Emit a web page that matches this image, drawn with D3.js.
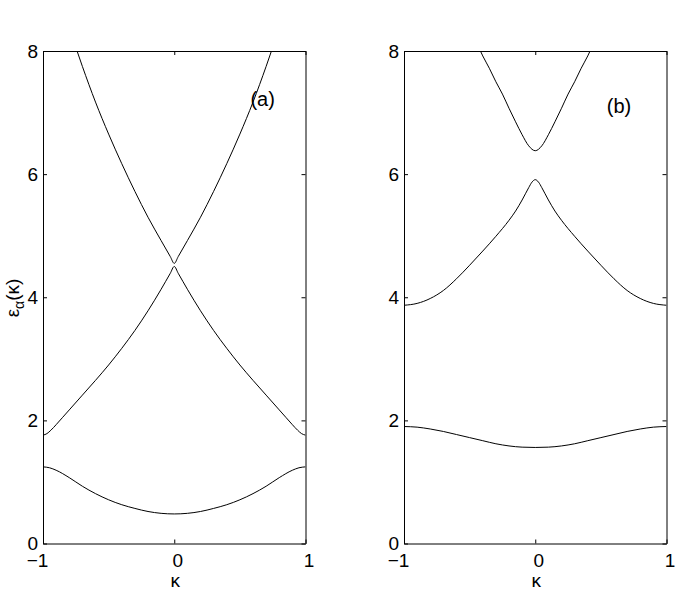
<!DOCTYPE html>
<html>
<head>
<meta charset="utf-8">
<script src="https://cdn.jsdelivr.net/npm/d3@7"></script>
<style>
  body { margin: 0; background: #fff; }
  svg { display: block; font-family: "Liberation Sans", Arial, sans-serif; }
  .band { fill: none; stroke: #000; stroke-width: 1; }
  .axis path, .axis line { stroke: #000; }
  .axis text { font-size: 19px; fill: #000; font-family: "Liberation Sans", Arial, sans-serif; }
</style>
</head>
<body>
<script>
// x and y ticks
var xTicks = [-1, 0, 1];
var yTicks = [0, 2, 4, 6, 8];

// panel (a) bands
var aLowK = [-1, -0.95, -0.9, -0.8, -0.7, -0.6, -0.5, -0.4, -0.3, -0.2, -0.1, 0, 0.1, 0.2, 0.3, 0.4, 0.5, 0.6, 0.7, 0.8, 0.9, 0.95, 1];
var aLowE = [1.245, 1.23, 1.19, 1.07, 0.93, 0.81, 0.71, 0.63, 0.57, 0.52, 0.49, 0.48, 0.49, 0.52, 0.57, 0.63, 0.71, 0.81, 0.93, 1.07, 1.19, 1.23, 1.245];

var aMidK = [-1, -0.97, -0.94, -0.9, -0.85, -0.8, -0.7, -0.6, -0.5, -0.4, -0.3, -0.2, -0.1, -0.03, 0,
             0.03, 0.1, 0.2, 0.3, 0.4, 0.5, 0.6, 0.7, 0.8, 0.85, 0.9, 0.94, 0.97, 1];
var aMidE = [1.76, 1.785, 1.84, 1.93, 2.05, 2.17, 2.41, 2.65, 2.9, 3.17, 3.46, 3.78, 4.13, 4.39, 4.5,
             4.39, 4.13, 3.78, 3.46, 3.17, 2.9, 2.65, 2.41, 2.17, 2.05, 1.93, 1.84, 1.785, 1.76];

var aTopK = [-0.78, -0.7, -0.6, -0.5, -0.4, -0.3, -0.2, -0.1, -0.03, 0, 0.03, 0.1, 0.2, 0.3, 0.4, 0.5, 0.6, 0.7, 0.78];
var aTopE = [8.25, 7.75, 7.17, 6.65, 6.17, 5.72, 5.3, 4.92, 4.66, 4.55, 4.66, 4.92, 5.3, 5.72, 6.17, 6.65, 7.17, 7.75, 8.25];

// panel (b) bands
var bLowK = [-1, -0.9, -0.8, -0.7, -0.6, -0.5, -0.4, -0.3, -0.2, -0.1, 0, 0.1, 0.2, 0.3, 0.4, 0.5, 0.6, 0.7, 0.8, 0.9, 1];
var bLowE = [1.90, 1.89, 1.86, 1.82, 1.77, 1.72, 1.67, 1.62, 1.585, 1.565, 1.56, 1.565, 1.585, 1.62, 1.67, 1.72, 1.77, 1.82, 1.86, 1.89, 1.90];

var bMidK = [-1, -0.9, -0.8, -0.7, -0.6, -0.5, -0.4, -0.3, -0.2, -0.15, -0.1, -0.05, -0.025, 0,
             0.025, 0.05, 0.1, 0.15, 0.2, 0.3, 0.4, 0.5, 0.6, 0.7, 0.8, 0.9, 1];
var bMidE = [3.87, 3.90, 3.98, 4.11, 4.30, 4.52, 4.75, 4.99, 5.25, 5.40, 5.58, 5.78, 5.87, 5.91,
             5.87, 5.78, 5.58, 5.40, 5.25, 4.99, 4.75, 4.52, 4.30, 4.11, 3.98, 3.90, 3.87];

var bTopK = [-0.46, -0.4, -0.35, -0.3, -0.25, -0.2, -0.15, -0.1, -0.05, 0, 0.05, 0.1, 0.15, 0.2, 0.25, 0.3, 0.35, 0.4, 0.46];
var bTopE = [8.2, 7.92, 7.72, 7.5, 7.3, 7.07, 6.85, 6.64, 6.46, 6.38, 6.46, 6.64, 6.85, 7.07, 7.3, 7.5, 7.72, 7.92, 8.2];

var panels = [
  { id: "a", label: "(a)", labelK: 0.58, labelE: 7.1, x0: 43, x1: 305.5,
    bands: [[aLowK, aLowE], [aMidK, aMidE], [aTopK, aTopE]] },
  { id: "b", label: "(b)", labelK: 0.545, labelE: 7.0, x0: 404, x1: 666.5,
    bands: [[bLowK, bLowE], [bMidK, bMidE], [bTopK, bTopE]] }
];

var width = 681, height = 595;
var plotTop = 51, plotBottom = 543.5;

var svg = d3.select("body").append("svg")
  .attr("width", width)
  .attr("height", height);

var y = d3.scaleLinear().domain([0, 8]).range([plotBottom, plotTop]);

panels.forEach(function(p){
  var x = d3.scaleLinear().domain([-1, 1]).range([p.x0, p.x1]);
  var g = svg.append("g");

  svg.append("clipPath").attr("id", "clip-" + p.id)
    .append("rect")
    .attr("x", p.x0).attr("y", plotTop)
    .attr("width", p.x1 - p.x0).attr("height", plotBottom - plotTop);

  var line = d3.line()
    .x(function(d){ return x(d[0]); })
    .y(function(d){ return y(d[1]); })
    .curve(d3.curveMonotoneX);

  g.append("g").attr("clip-path", "url(#clip-" + p.id + ")")
    .selectAll(".band").data(p.bands).enter()
    .append("path")
    .attr("class", "band")
    .attr("d", function(b){ return line(d3.zip(b[0], b[1])); });

  // axes, ticks inward on all four sides
  var fmt = function(d){ return d < 0 ? "\u2212" + Math.abs(d) : d; };

  g.append("g").attr("class", "axis")
    .attr("transform", "translate(" + p.x0 + ",0)")
    .call(d3.axisLeft(y).tickValues(yTicks).tickSizeInner(-4).tickSizeOuter(0).tickPadding(5));

  g.append("g").attr("class", "axis")
    .attr("transform", "translate(" + p.x1 + ",0)")
    .call(d3.axisRight(y).tickValues(yTicks).tickSizeInner(-4).tickSizeOuter(0).tickFormat(""));

  var bx = g.append("g").attr("class", "axis")
    .attr("transform", "translate(0," + plotBottom + ")")
    .call(d3.axisBottom(x).tickValues(xTicks).tickSizeInner(-4).tickSizeOuter(0).tickPadding(10).tickFormat(fmt));
  bx.selectAll("text").attr("dx", function(d){ return d < 0 ? -6 : 3; });

  g.append("g").attr("class", "axis")
    .attr("transform", "translate(0," + plotTop + ")")
    .call(d3.axisTop(x).tickValues(xTicks).tickSizeInner(-4).tickSizeOuter(0).tickFormat(""));

  g.selectAll(".axis path").attr("stroke-width", 1);

  // x label
  g.append("text")
    .attr("x", x(0) + 1)
    .attr("y", 587)
    .attr("text-anchor", "middle")
    .style("font-size", "19px")
    .text("\u03ba");

  // panel label
  g.append("text")
    .attr("x", x(p.labelK))
    .attr("y", y(p.labelE))
    .style("font-size", "20px")
    .text(p.label);
});

// y label
var yl = svg.append("text")
  .attr("transform", "translate(19,298) rotate(-90)")
  .attr("text-anchor", "middle")
  .style("font-size", "19px");
yl.append("tspan").text("\u03b5");
yl.append("tspan").attr("dy", 5).style("font-size", "14px").text("\u03b1");
yl.append("tspan").attr("dy", -5).text("(\u03ba)");
</script>
</body>
</html>
